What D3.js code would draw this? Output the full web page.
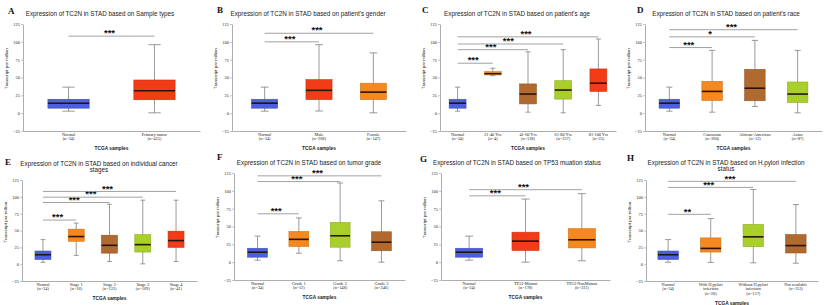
<!DOCTYPE html>
<html>
<head>
<meta charset="utf-8">
<script src="https://cdn.jsdelivr.net/npm/d3@7"></script>
<style>
  body { margin: 0; background: #fff; }
  svg { display: block; }
</style>
</head>
<body>
<svg id="chart" width="825" height="305"></svg>
<script>
// valores de los paneles
const yTicks = [-25, 0, 25, 50, 75, 100, 125];
const letters = ["A", "B", "C", "D", "E", "F", "G", "H"];
const titles = [
  ["Expression of TC2N in STAD based on Sample types"],
  ["Expression of TC2N in STAD based on patient's gender"],
  ["Expression of TC2N in STAD based on patient's age"],
  ["Expression of TC2N in STAD based on patient's race"],
  ["Expression of TC2N in STAD based on individual cancer", "stages"],
  ["Expression of TC2N in STAD based on tumor grade"],
  ["Expression of TC2N in STAD based on TP53 muation status"],
  ["Expression of TC2N in STAD based on H.pylori infection", "status"]
];

// [min, q1, mediana, q3, max]
const normalBox = [2.8, 7, 14, 19.5, 36.5];

const groupsA = ["Normal", "Primary tumor"];
const countsA = [34, 415];
const boxesA = [normalBox, [0.5, 18.8, 31.5, 46.5, 96]];
const sigA = [[1, 108, "***"]];

const groupsB = ["Normal", "Male", "Female"];
const countsB = [34, 268, 147];
const boxesB = [normalBox, [3, 19, 32, 47, 96], [0.5, 19, 29.5, 42, 84.5]];
const sigB = [[1, 100, "***"], [2, 112, "***"]];

const groupsC = ["Normal", "21-40 Yrs", "41-60 Yrs", "61-80 Yrs", "81-100 Yrs"];
const countsC = [34, 4, 128, 257, 25];
const boxesC = [normalBox, [52.5, 53.5, 55.4, 58.5, 63], [1.4, 13, 26.8, 41, 86],
  [0.5, 19.7, 32.4, 45.5, 89], [10.8, 30.5, 42, 62, 104]];
const sigC = [[1, 70, "***"], [2, 89, "***"], [3, 97, "***"], [4, 107, "***"]];

const groupsD = ["Normal", "Caucasian", "African-American", "Asian"];
const countsD = [34, 260, 12, 87];
const boxesD = [normalBox, [1.4, 17.8, 30.5, 44.6, 88], [9.4, 17.4, 35, 61.5, 102],
  [0.5, 15, 26.8, 43.7, 88]];
const sigD = [[1, 92, "***"], [2, 107, "*"], [3, 117, "***"]];

const groupsE = ["Normal", "Stage 1", "Stage 2", "Stage 3", "Stage 4"];
const countsE = [34, 18, 123, 169, 41];
const boxesE = [normalBox, [13, 34, 41, 52, 61], [4, 16.4, 28, 43, 89],
  [0.5, 18, 29, 44, 95], [4, 25, 35, 49, 95]];
const sigE = [[1, 65.5, "***"], [2, 91.6, "***"], [3, 99.5, "***"], [4, 108, "***"]];

const groupsF = ["Normal", "Grade 1", "Grade 2", "Grade 3"];
const countsF = [34, 12, 148, 246];
const boxesF = [normalBox, [12.6, 22, 32, 43, 62], [2, 21, 37, 55.7, 111], [0, 16, 28, 42.6, 86]];
const sigF = [[1, 67.8, "***"], [2, 113, "***"], [3, 121, "***"]];

const groupsG = ["Normal", "TP53-Mutant", "TP53-NonMutant"];
const countsG = [34, 178, 231];
const boxesG = [normalBox, [0, 16.4, 29.5, 42, 88.5], [2, 20, 31.4, 47, 96]];
const sigG = [[1, 93, "***"], [2, 101.6, "***"]];

const groupsH = ["Normal", "With H.pylori\ninfection", "Without H.pylori\ninfection", "Not available"];
const countsH = [34, 20, 157, 153];
const boxesH = [normalBox, [2.6, 18, 23.4, 39, 67.7], [2, 26, 40.6, 59, 111], [1.5, 16.6, 27.6, 44, 88.5]];
const sigH = [[1, 74, "**"], [2, 114, "***"], [3, 123, "***"]];

// colores
const AZUL = "#4b5fe0", ROJO = "#f23c17", NARANJA = "#f5891f",
      CAFE = "#b0692e", LIMA = "#a8cf2a", NARANJA_CLARO = "#f0a03c";

// posiciones de cada panel
const layout = [
  {x0: 23, x1: 200, yTop: 24, yBot: 131, pad: 0.53, tx: 100, ty: 15.5, lx: 8, ly: 13.5, colors: [AZUL, ROJO]},
  {x0: 232, x1: 406, yTop: 24, yBot: 131, pad: 0.6, tx: 308, ty: 15.5, lx: 217, ly: 12.5, colors: [AZUL, ROJO, NARANJA]},
  {x0: 440, x1: 616, yTop: 24, yBot: 131, pad: 0.5, tx: 517, ty: 15.5, lx: 422, ly: 12.5, colors: [AZUL, NARANJA_CLARO, CAFE, LIMA, ROJO]},
  {x0: 645, x1: 822, yTop: 24, yBot: 131, pad: 0.57, tx: 726, ty: 15.5, lx: 637, ly: 12.5, colors: [AZUL, NARANJA, CAFE, LIMA]},
  {x0: 22, x1: 197, yTop: 180, yBot: 281, pad: 0.63, tx: 99, ty: 166, lx: 5, ly: 165, colors: [AZUL, NARANJA, CAFE, LIMA, ROJO]},
  {x0: 234, x1: 405, yTop: 173, yBot: 280, pad: 0.57, tx: 309, ty: 165, lx: 217, ly: 160, colors: [AZUL, NARANJA, LIMA, CAFE]},
  {x0: 441, x1: 610, yTop: 173, yBot: 280, pad: 0.5, tx: 517, ty: 165, lx: 420, ly: 162, colors: [AZUL, ROJO, NARANJA]},
  {x0: 646, x1: 818, yTop: 180, yBot: 281, pad: 0.52, tx: 726, ty: 165, lx: 627, ly: 161, colors: [AZUL, NARANJA, LIMA, CAFE]}
];

const paneles = [
  [groupsA, countsA, boxesA, sigA],
  [groupsB, countsB, boxesB, sigB],
  [groupsC, countsC, boxesC, sigC],
  [groupsD, countsD, boxesD, sigD],
  [groupsE, countsE, boxesE, sigE],
  [groupsF, countsF, boxesF, sigF],
  [groupsG, countsG, boxesG, sigG],
  [groupsH, countsH, boxesH, sigH]
];

const svg = d3.select("#chart");
const SANS = "'Liberation Sans', Arial, sans-serif";
const SERIF = "'Liberation Serif', 'Times New Roman', serif";

paneles.forEach(([groups, counts, boxes, sigs], i) => {
  const L = layout[i];
  const g = svg.append("g");

  const x = d3.scalePoint().domain(groups).range([L.x0, L.x1]).padding(L.pad);
  const y = d3.scaleLinear().domain([-25, 125]).range([L.yBot, L.yTop]);
  const boxW = x.step() * 0.48;
  const capW = boxW * 0.3;

  // letra del panel
  g.append("text")
    .attr("x", L.lx).attr("y", L.ly)
    .text(letters[i])
    .style("font-family", SERIF).style("font-weight", "bold").style("font-size", "9px")
    .attr("fill", "#111");

  // titulo
  titles[i].forEach((t, k) => {
    g.append("text")
      .attr("x", L.tx).attr("y", L.ty + k * 6.2)
      .attr("text-anchor", "middle")
      .text(t)
      .style("font-family", SANS).style("font-size", "6.3px")
      .attr("fill", "#222");
  });

  // eje Y
  const ejeY = g.append("g")
    .attr("transform", `translate(${L.x0},0)`)
    .call(d3.axisLeft(y).tickValues(yTicks).tickSize(2).tickSizeOuter(0).tickPadding(1.2));
  ejeY.select(".domain").attr("stroke", "#999").attr("stroke-width", 0.8);
  ejeY.selectAll(".tick line").attr("stroke", "#999").attr("stroke-width", 0.6);
  ejeY.selectAll(".tick text")
    .style("font-family", SERIF).style("font-size", "4.3px").attr("fill", "#222");

  g.append("text")
    .attr("transform", `translate(${L.x0 - 15},${y(62.5)}) rotate(-90)`)
    .attr("text-anchor", "middle")
    .text("Transcript per million")
    .style("font-family", SANS).style("font-size", "4.4px")
    .attr("fill", "#111");

  // eje X
  const ejeX = g.append("g")
    .attr("transform", `translate(0,${L.yBot})`)
    .call(d3.axisBottom(x).tickSize(0).tickSizeOuter(0).tickFormat(""));
  ejeX.select(".domain").attr("stroke", "#999").attr("stroke-width", 0.8);

  let maxLineas = 1;
  groups.forEach((grp, j) => {
    const lineas = grp.split("\n").concat([`(n=${counts[j]})`]);
    maxLineas = Math.max(maxLineas, lineas.length);
    const t = g.append("text")
      .attr("text-anchor", "middle")
      .style("font-family", SERIF).style("font-size", "4.3px")
      .attr("fill", "#222");
    lineas.forEach((ln, k) => {
      t.append("tspan")
        .attr("x", x(grp))
        .attr("y", L.yBot + 4.6 + k * 4.6)
        .text(ln);
    });
  });

  g.append("text")
    .attr("x", (L.x0 + L.x1) / 2)
    .attr("y", L.yBot + 4.6 + (maxLineas - 1) * 4.6 + 10)
    .attr("text-anchor", "middle")
    .text("TCGA samples")
    .style("font-family", SANS).style("font-weight", "bold").style("font-size", "4.8px")
    .attr("fill", "#222");

  // cajas
  const cajas = g.selectAll("g.caja")
    .data(groups.map((grp, j) => ({grp, v: boxes[j], color: L.colors[j]})))
    .join("g").attr("class", "caja");

  cajas.append("line")
    .attr("x1", d => x(d.grp)).attr("x2", d => x(d.grp))
    .attr("y1", d => y(d.v[4])).attr("y2", d => y(d.v[0]))
    .attr("stroke", "#808080").attr("stroke-width", 0.8);

  [0, 4].forEach(k => {
    cajas.append("line")
      .attr("x1", d => x(d.grp) - capW / 2).attr("x2", d => x(d.grp) + capW / 2)
      .attr("y1", d => y(d.v[k])).attr("y2", d => y(d.v[k]))
      .attr("stroke", "#808080").attr("stroke-width", 0.8);
  });

  cajas.append("rect")
    .attr("x", d => x(d.grp) - boxW / 2)
    .attr("width", boxW)
    .attr("y", d => y(d.v[3]))
    .attr("height", d => y(d.v[1]) - y(d.v[3]))
    .attr("fill", d => d.color)
    .attr("stroke", d => d3.color(d.color).darker(0.5))
    .attr("stroke-width", 0.6);

  cajas.append("line")
    .attr("x1", d => x(d.grp) - boxW / 2).attr("x2", d => x(d.grp) + boxW / 2)
    .attr("y1", d => y(d.v[2])).attr("y2", d => y(d.v[2]))
    .attr("stroke", "#2a1408").attr("stroke-width", 1.6);

  // significancia
  sigs.forEach(([hasta, val, estrellas]) => {
    const xa = x(groups[0]), xb = x(groups[hasta]);
    g.append("line")
      .attr("x1", xa).attr("x2", xb)
      .attr("y1", y(val)).attr("y2", y(val))
      .attr("stroke", "#8a8a8a").attr("stroke-width", 0.8);
    g.append("text")
      .attr("x", (xa + xb) / 2 - 2).attr("y", y(val) + 0.2)
      .attr("text-anchor", "middle")
      .text(estrellas)
      .style("font-family", SANS).style("font-weight", "bold").style("font-size", "9.5px")
      .attr("fill", "#111");
  });
});
</script>
</body>
</html>
